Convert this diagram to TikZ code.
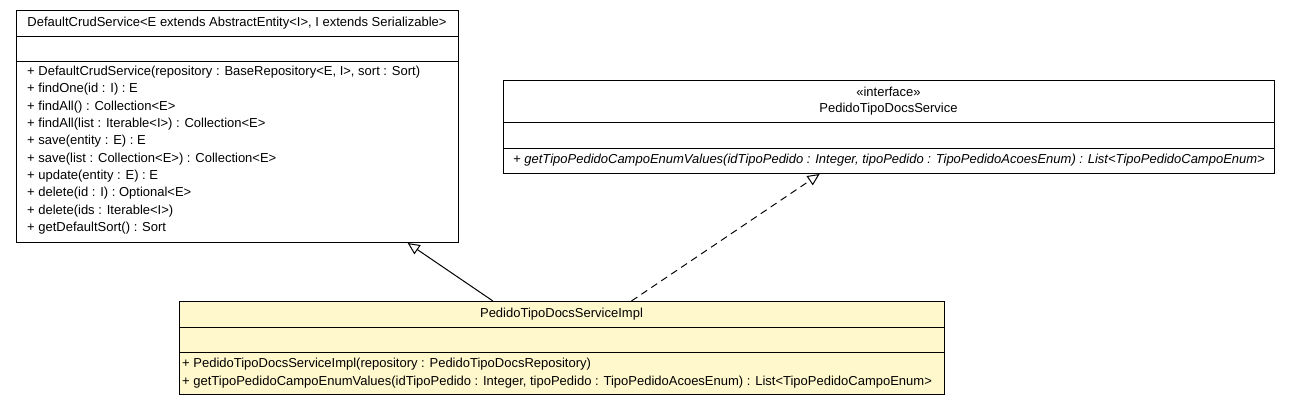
\documentclass[tikz,border=0pt]{standalone}
\usepackage{fontspec}
\setmainfont{Liberation Sans}
\usetikzlibrary{arrows.meta}
\definecolor{implyellow}{RGB}{255,248,204}
\tikzstyle{classbox}=[draw,line width=1pt,inner sep=0pt,anchor=north west]
\tikzstyle{member}=[anchor=west,inner sep=0pt,font=\fontsize{13}{15}\selectfont]
\tikzstyle{title}=[inner sep=0pt,font=\fontsize{13}{15}\selectfont]
\tikzstyle{extends}=[line width=1pt,-{Triangle[open,length=12pt,width=11pt,fill=white]}]
\tikzstyle{implements}=[extends,dash pattern=on 7pt off 5pt]

\begin{document}
\begin{tikzpicture}[x=1pt,y=-1pt]
\useasboundingbox[fill=white] (0,0) rectangle (1290,405);
% DefaultCrudService
\node[classbox,fill=white,minimum width=442pt,minimum height=232pt] (crud) at (16,10) {};
\draw[line width=1pt] (16,36) -- (458,36);
\draw[line width=1pt] (16,61) -- (458,61);
\node[title] (crudname) at (237,23) {DefaultCrudService<E extends AbstractEntity<I>, I extends Serializable>};
\node[member] (crudm1) at (27,72) {+ DefaultCrudService(repository : BaseRepository<E, I>, sort : Sort)};
\node[member] (crudm2) at (27,89.3) {+ findOne(id : I) : E};
\node[member] (crudm3) at (27,106.7) {+ findAll() : Collection<E>};
\node[member] (crudm4) at (27,124) {+ findAll(list : Iterable<I>) : Collection<E>};
\node[member] (crudm5) at (27,141.3) {+ save(entity : E) : E};
\node[member] (crudm6) at (27,158.7) {+ save(list : Collection<E>) : Collection<E>};
\node[member] (crudm7) at (27,176) {+ update(entity : E) : E};
\node[member] (crudm8) at (27,193.3) {+ delete(id : I) : Optional<E>};
\node[member] (crudm9) at (27,210.7) {+ delete(ids : Iterable<I>)};
\node[member] (crudm10) at (27,228) {+ getDefaultSort() : Sort};
% PedidoTipoDocsService
\node[classbox,fill=white,minimum width=771pt,minimum height=93pt] (iface) at (503,80) {};
\draw[line width=1pt] (503,122) -- (1274,122);
\draw[line width=1pt] (503,148) -- (1274,148);
\node[title] (ifacestereo) at (888.5,92) {«interface»};
\node[title] (ifacename) at (888.5,109) {PedidoTipoDocsService};
\node[member,font=\fontsize{13}{15}\selectfont\itshape] (ifacem1) at (513,160) {+ getTipoPedidoCampoEnumValues(idTipoPedido : Integer, tipoPedido : TipoPedidoAcoesEnum) : List<TipoPedidoCampoEnum>};
% PedidoTipoDocsServiceImpl
\node[classbox,fill=implyellow,minimum width=765pt,minimum height=93pt] (impl) at (179,301) {};
\draw[line width=1pt] (179,327) -- (944,327);
\draw[line width=1pt] (179,352) -- (944,352);
\node[title] (implname) at (561.5,314) {PedidoTipoDocsServiceImpl};
\node[member] (implm1) at (182,364) {+ PedidoTipoDocsServiceImpl(repository : PedidoTipoDocsRepository)};
\node[member] (implm2) at (182,382) {+ getTipoPedidoCampoEnumValues(idTipoPedido : Integer, tipoPedido : TipoPedidoAcoesEnum) : List<TipoPedidoCampoEnum>};
% relations
\draw[extends] (impl) -- (crud);
\draw[implements] (impl) -- (iface);
\end{tikzpicture}
\end{document}
